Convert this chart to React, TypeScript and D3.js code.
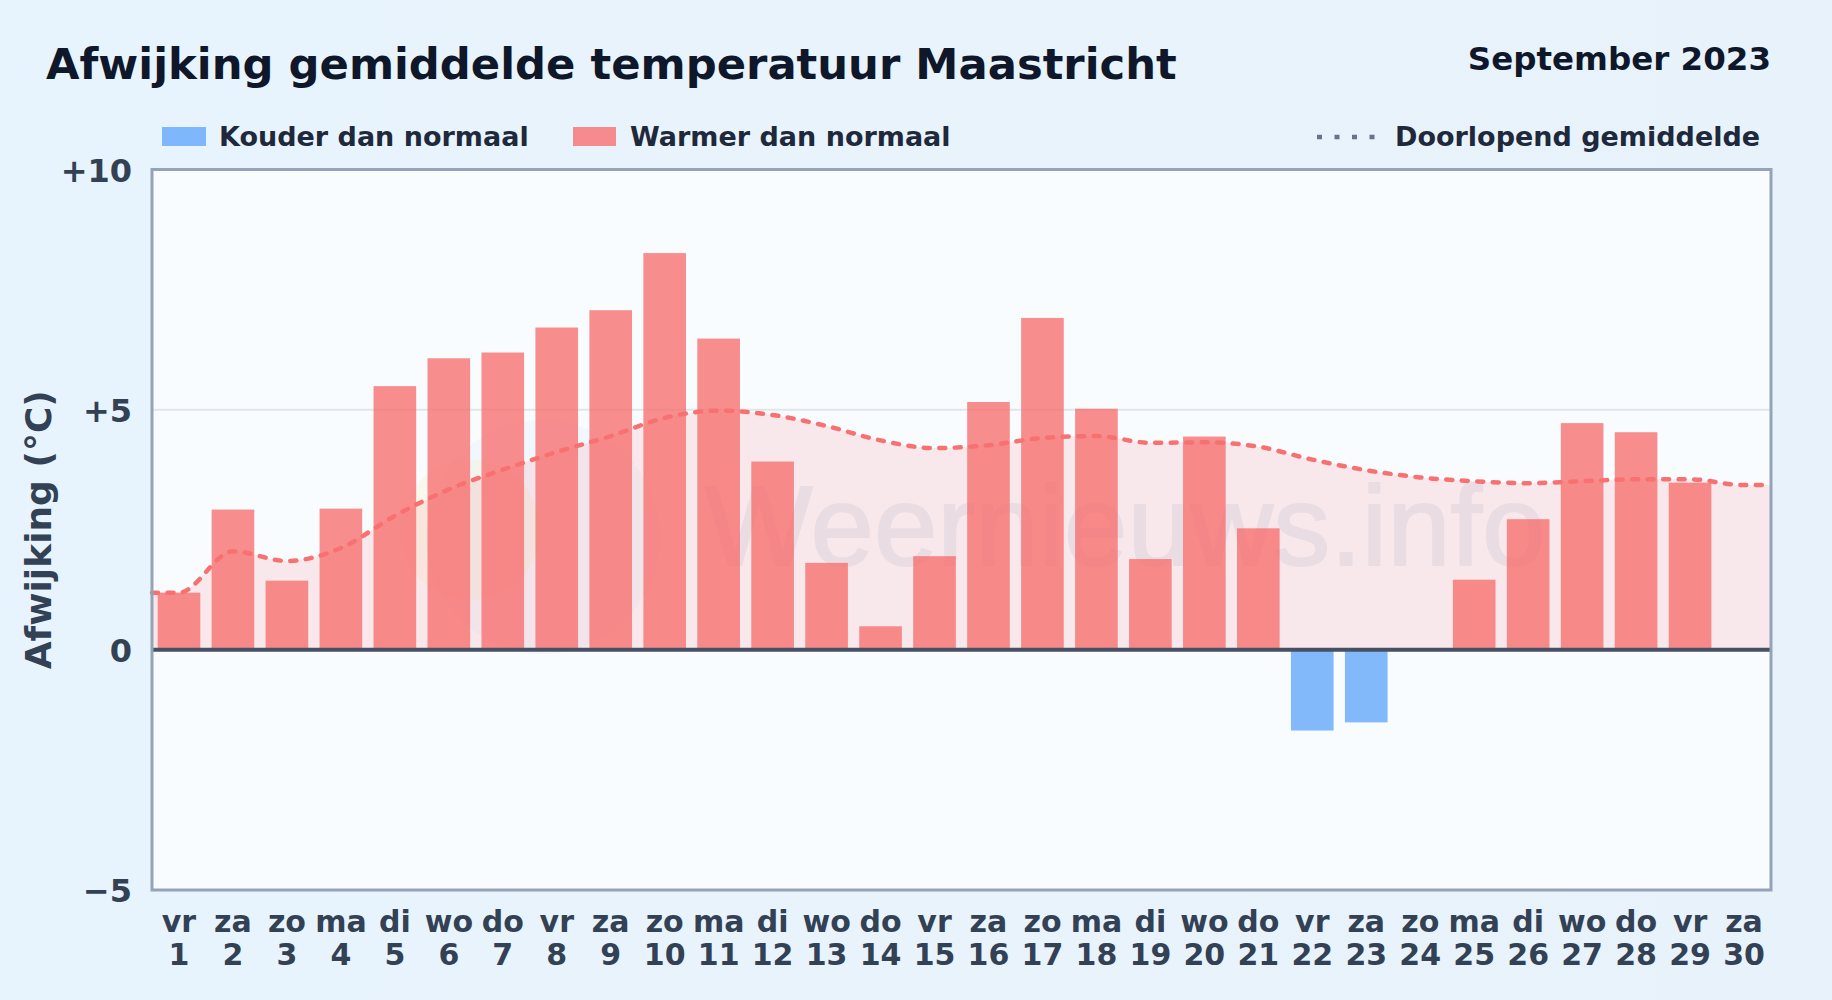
import { useEffect, useRef } from 'react';
import { area, axisBottom, axisLeft, curveMonotoneX, line, scaleBand, scaleLinear, select } from 'd3';

const weekdays = ['vr', 'za', 'zo', 'ma', 'di', 'wo', 'do', 'vr', 'za', 'zo', 'ma', 'di', 'wo', 'do', 'vr', 'za', 'zo', 'ma', 'di', 'wo', 'do', 'vr', 'za', 'zo', 'ma', 'di', 'wo', 'do', 'vr', 'za'];
const days = ['1', '2', '3', '4', '5', '6', '7', '8', '9', '10', '11', '12', '13', '14', '15', '16', '17', '18', '19', '20', '21', '22', '23', '24', '25', '26', '27', '28', '29', '30'];
const deviation = [1.19, 2.92, 1.44, 2.94, 5.49, 6.07, 6.19, 6.71, 7.07, 8.26, 6.48, 3.92, 1.81, 0.49, 1.95, 5.16, 6.91, 5.02, 1.89, 4.44, 2.53, -1.68, -1.51, 0, 1.46, 2.72, 4.72, 4.53, 3.48, 0];
const runningMean = [1.19, 2.05, 1.85, 2.12, 2.79, 3.34, 3.75, 4.12, 4.45, 4.83, 4.98, 4.89, 4.66, 4.36, 4.2, 4.26, 4.41, 4.45, 4.31, 4.32, 4.23, 3.96, 3.74, 3.59, 3.51, 3.47, 3.51, 3.55, 3.55, 3.43];
const yTicks = [-5, 0, 5, 10];
const yLabels: Record<number, string> = { [-5]: '−5', 0: '0', 5: '+5', 10: '+10' };

const width = 1832;
const height = 1000;
const margin = { top: 169.5, right: 61, bottom: 110, left: 152 };
const font = '"DejaVu Sans", sans-serif';

const App = () => {
  const ref = useRef<SVGSVGElement>(null);

  useEffect(() => {
    const svg = select(ref.current);
    svg.selectAll('*').remove();

    const x0 = margin.left;
    const x1 = width - margin.right;
    const y0 = margin.top;
    const y1 = height - margin.bottom;

    const xScale = scaleBand().domain(days).range([x0, x1]).paddingInner(0.21).paddingOuter(0.105);
    const yScale = scaleLinear().domain([-5, 10]).range([y1, y0]);
    const center = (d: string) => (xScale(d) as number) + xScale.bandwidth() / 2;

    const defs = svg.append('defs');
    const bg = defs.append('linearGradient').attr('id', 'page').attr('x1', 0).attr('x2', 1).attr('y1', 0).attr('y2', 0);
    bg.append('stop').attr('offset', '0%').attr('stop-color', '#e8f4fd');
    bg.append('stop').attr('offset', '100%').attr('stop-color', '#e8f2fb');

    svg.append('rect').attr('width', width).attr('height', height).attr('fill', 'url(#page)');
    svg.append('rect').attr('x', x0).attr('y', y0).attr('width', x1 - x0).attr('height', y1 - y0).attr('fill', '#f8fcff');

    // watermark
    const mark = svg.append('g');
    mark.append('circle').attr('cx', 543).attr('cy', 537).attr('r', 117).attr('fill', '#60a5fa').attr('opacity', 0.05);
    mark.append('circle').attr('cx', 470).attr('cy', 530).attr('r', 70).attr('fill', '#fde68a').attr('opacity', 0.14);
    mark
      .append('text')
      .attr('x', 705)
      .attr('y', 565)
      .attr('font-family', '"Liberation Sans", sans-serif')
      .attr('font-size', 114)
      .attr('fill', '#5a7ab0')
      .attr('stroke', '#5a7ab0')
      .attr('stroke-width', 2)
      .attr('opacity', 0.1)
      .text('Weernieuws.info');

    // grid
    svg
      .append('line')
      .attr('x1', x0)
      .attr('x2', x1)
      .attr('y1', yScale(5))
      .attr('y2', yScale(5))
      .attr('stroke', '#e0e6ec')
      .attr('stroke-width', 2);

    // running mean, stretched flat to both frame edges
    const meanPoints: [number, number][] = [
      [x0, runningMean[0]],
      ...runningMean.map((v, i): [number, number] => [center(days[i]), v]),
      [x1, runningMean[runningMean.length - 1]],
    ];

    svg
      .append('path')
      .attr(
        'd',
        area<[number, number]>()
          .x((d) => d[0])
          .y0(yScale(0))
          .y1((d) => yScale(d[1]))
          .curve(curveMonotoneX)(meanPoints),
      )
      .attr('fill', '#f87171')
      .attr('fill-opacity', 0.14);

    svg
      .selectAll('rect.bar')
      .data(deviation.map((v, i) => ({ v, day: days[i] })).filter((d) => d.v !== 0))
      .join('rect')
      .attr('class', 'bar')
      .attr('x', (d) => xScale(d.day) as number)
      .attr('width', xScale.bandwidth())
      .attr('y', (d) => yScale(Math.max(d.v, 0)))
      .attr('height', (d) => Math.abs(yScale(d.v) - yScale(0)))
      .attr('fill', (d) => (d.v < 0 ? '#60a5fa' : '#f87171'))
      .attr('fill-opacity', (d) => (d.v < 0 ? 0.78 : 0.8));

    svg
      .append('path')
      .attr(
        'd',
        line<[number, number]>()
          .x((d) => d[0])
          .y((d) => yScale(d[1]))
          .curve(curveMonotoneX)(meanPoints),
      )
      .attr('fill', 'none')
      .attr('stroke', '#f87171')
      .attr('stroke-width', 4.5)
      .attr('stroke-linecap', 'round')
      .attr('stroke-dasharray', '6 9.5');

    // zero line and frame
    svg
      .append('line')
      .attr('x1', x0)
      .attr('x2', x1)
      .attr('y1', yScale(0))
      .attr('y2', yScale(0))
      .attr('stroke', '#475063')
      .attr('stroke-width', 4);
    svg
      .append('rect')
      .attr('x', x0)
      .attr('y', y0)
      .attr('width', x1 - x0)
      .attr('height', y1 - y0)
      .attr('fill', 'none')
      .attr('stroke', '#94a3b8')
      .attr('stroke-width', 3);

    // y axis
    const yAxis = axisLeft(yScale)
      .tickValues(yTicks)
      .tickSize(0)
      .tickPadding(20)
      .tickFormat((d) => yLabels[d as number]);
    const yG = svg.append('g').attr('transform', `translate(${x0}, 0)`).call(yAxis as any);
    yG.select('.domain').remove();
    yG.selectAll('text')
      .attr('font-family', font)
      .attr('font-size', 32)
      .attr('font-weight', 700)
      .attr('fill', '#334155')
      .attr('dy', '0.36em');

    // x axis, weekday above the day number
    const xAxis = axisBottom(xScale).tickSize(0).tickPadding(0);
    const xG = svg.append('g').attr('transform', `translate(0, ${y1})`).call(xAxis as any);
    xG.select('.domain').remove();
    xG.selectAll('.tick text')
      .attr('font-family', font)
      .attr('font-size', 30)
      .attr('font-weight', 700)
      .attr('fill', '#334155')
      .attr('y', 0)
      .attr('dy', 0)
      .each(function (d: any, i: number) {
        const t = select(this as SVGTextElement).text(null);
        t.append('tspan').attr('x', 0).attr('y', 42).text(weekdays[i]);
        t.append('tspan').attr('x', 0).attr('y', 75).text(d);
      });

    // title
    svg
      .append('text')
      .attr('x', 46)
      .attr('y', 79)
      .attr('font-family', font)
      .attr('font-size', 43.3)
      .attr('font-weight', 700)
      .attr('fill', '#0f172a')
      .text('Afwijking gemiddelde temperatuur Maastricht');
    svg
      .append('text')
      .attr('x', 1771)
      .attr('y', 70)
      .attr('text-anchor', 'end')
      .attr('font-family', font)
      .attr('font-size', 32.5)
      .attr('font-weight', 700)
      .attr('fill', '#0f172a')
      .text('September 2023');

    // legend
    const legendText = (x: number, label: string) =>
      svg
        .append('text')
        .attr('x', x)
        .attr('y', 146)
        .attr('font-family', font)
        .attr('font-size', 27)
        .attr('font-weight', 700)
        .attr('fill', '#1e293b')
        .text(label);

    svg.append('rect').attr('x', 162).attr('y', 127).attr('width', 44).attr('height', 19).attr('fill', '#60a5fa').attr('fill-opacity', 0.78);
    legendText(219, 'Kouder dan normaal');
    svg.append('rect').attr('x', 573).attr('y', 127).attr('width', 43).attr('height', 19).attr('fill', '#f87171').attr('fill-opacity', 0.8);
    legendText(630, 'Warmer dan normaal');
    svg
      .append('line')
      .attr('x1', 1317)
      .attr('x2', 1375)
      .attr('y1', 137)
      .attr('y2', 137)
      .attr('stroke', '#64748b')
      .attr('stroke-width', 4.5)
      .attr('stroke-dasharray', '5 12.5');
    legendText(1395, 'Doorlopend gemiddelde');

    // axis title
    svg
      .append('text')
      .attr('transform', `translate(51, ${(y0 + y1) / 2}) rotate(-90)`)
      .attr('text-anchor', 'middle')
      .attr('font-family', font)
      .attr('font-size', 36)
      .attr('font-weight', 700)
      .attr('fill', '#334155')
      .text('Afwijking (°C)');
  }, []);

  return <svg ref={ref} width={width} height={height} style={{ position: 'absolute', left: 0, top: 0, display: 'block' }} />;
};

export default App;
